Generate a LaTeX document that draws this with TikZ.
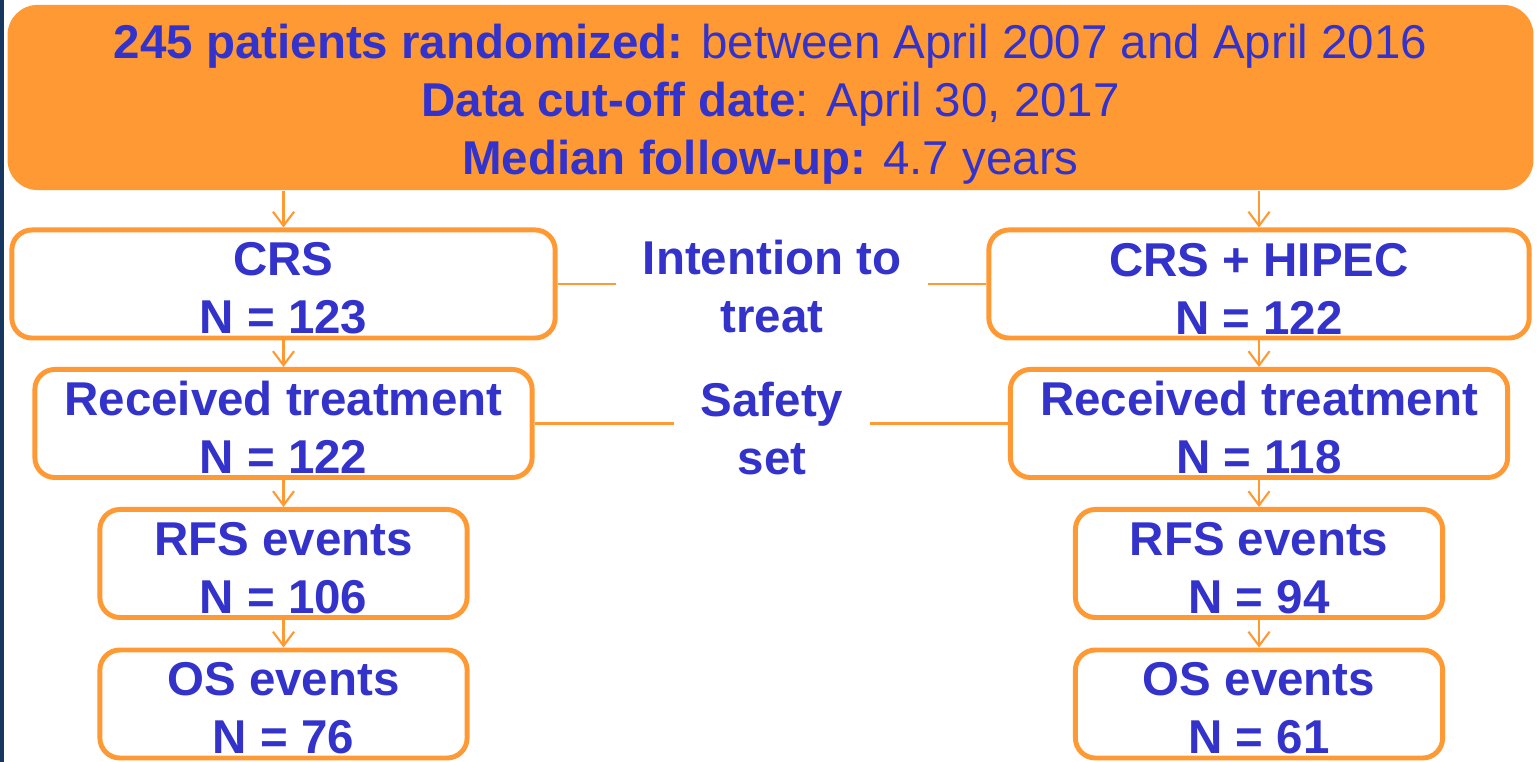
\documentclass[tikz,border=0pt]{standalone}
\usepackage{fontspec}
\setmainfont{Liberation Sans}
\usetikzlibrary{arrows.meta}
\definecolor{boxorange}{HTML}{FF9933}
\definecolor{textblue}{HTML}{3333CC}
\definecolor{navystrip}{HTML}{17375E}
\def\armtext#1#2{\rule{0pt}{12pt}#1\\#2}
\tikzset{
	armbox/.style={draw=boxorange, line width=1.4pt, fill=white, rounded corners=0.2cm, align=center, text=textblue, font=\fontsize{13.5}{16.5}\selectfont\bfseries, inner sep=0pt},
	midlabel/.style={align=center, text=textblue, font=\fontsize{13.5}{16.5}\selectfont\bfseries, inner xsep=0.26cm, inner ysep=0pt},
	flowarrow/.style={draw=boxorange, line width=0.6pt, -{Straight Barb[length=4pt,width=6pt]}},
	setline/.style={draw=boxorange, line width=0.6pt}
}
\begin{document}
\begin{tikzpicture}[x=0.01cm, y=-0.01cm]
			%%%%% START %%%%%
			\useasboundingbox (0, 0) rectangle (1537, 762);
			\fill[white] (0, 0) rectangle (1537, 762);
			\fill[navystrip] (0, 0) rectangle (4, 762);
			
			% header box
			\node[fill=boxorange, rounded corners=0.3cm, minimum width=15.25cm, minimum height=1.85cm, align=center, text=textblue, font=\fontsize{13.5}{16.5}\selectfont, inner sep=0pt] (top) at (770.5, 97.5)
				{\rule{0pt}{13.5pt}\textbf{245 patients randomized:} between April 2007 and April 2016\\
				 \textbf{Data cut-off date}: April 30, 2017\\
				 \textbf{Median follow-up:} 4.7 years};
			
			% CRS arm
			\node[armbox, minimum width=5.43cm, minimum height=1.08cm] (crs) at (283.5, 284) {\armtext{CRS}{N = 123}};
			\node[armbox, minimum width=4.97cm, minimum height=1.08cm] (crsrec) at (283.5, 423.5) {\armtext{Received treatment}{N = 122}};
			\node[armbox, minimum width=3.67cm, minimum height=1.08cm] (crsrfs) at (283.5, 563.5) {\armtext{RFS events}{N = 106}};
			\node[armbox, minimum width=3.67cm, minimum height=1.08cm] (crsos) at (283.5, 704) {\armtext{OS events}{N = 76}};
			
			% CRS + HIPEC arm
			\node[armbox, minimum width=5.40cm, minimum height=1.08cm] (hip) at (1259, 284) {\armtext{CRS + HIPEC}{N = 122}};
			\node[armbox, minimum width=4.97cm, minimum height=1.08cm] (hiprec) at (1259, 423.5) {\armtext{Received treatment}{N = 118}};
			\node[armbox, minimum width=3.67cm, minimum height=1.08cm] (hiprfs) at (1259, 563.5) {\armtext{RFS events}{N = 94}};
			\node[armbox, minimum width=3.67cm, minimum height=1.08cm] (hipos) at (1259, 704) {\armtext{OS events}{N = 61}};
			
			% analysis sets
			\node[midlabel] (itt) at (772, 287) {Intention to\\treat};
			\node[midlabel] (safety) at (772, 428.5) {Safety\\set};
			
			\draw[setline] (crs.east) -- (crs.east -| itt.west);
			\draw[setline] (hip.west -| itt.east) -- (hip.west);
			\draw[setline] (crsrec.east) -- (crsrec.east -| safety.west);
			\draw[setline] (hiprec.west -| safety.east) -- (hiprec.west);
			
			% flow
			\draw[flowarrow] (top.south -| crs.north) -- (crs.north);
			\draw[flowarrow] (top.south -| hip.north) -- (hip.north);
			\draw[flowarrow] (crs.south) -- (crsrec.north);
			\draw[flowarrow] (crsrec.south) -- (crsrfs.north);
			\draw[flowarrow] (crsrfs.south) -- (crsos.north);
			\draw[flowarrow] (hip.south) -- (hiprec.north);
			\draw[flowarrow] (hiprec.south) -- (hiprfs.north);
			\draw[flowarrow] (hiprfs.south) -- (hipos.north);
			%%%%% END %%%%%
\end{tikzpicture}
\end{document}
